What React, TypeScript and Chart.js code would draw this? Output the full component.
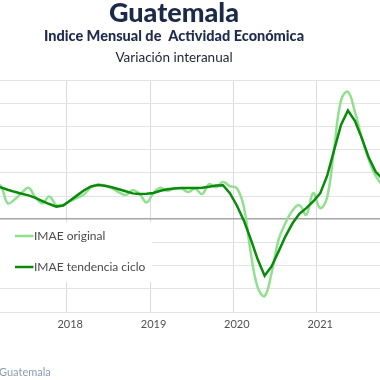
import React, { useEffect, useRef } from "react";
import { Chart, registerables } from "chart.js";

Chart.register(...registerables);

// ---------- data ----------
const TITLE = "Guatemala";
const SUBTITLE = "Indice Mensual de  Actividad Económica";
const SUBTITLE2 = "Variación interanual";
const SOURCE_TEXT = "Guatemala";
const SERIES_NAMES = ["IMAE original", "IMAE tendencia ciclo"];

// first month of the series: February 2017
const START_YEAR = 2017;
const START_MONTH = 2;

const yearLabels = [2017, 2018, 2019, 2020, 2021];

// IMAE tendencia ciclo (% interanual)
const trendValues = [
  4.4, 4.11, 3.81, 3.54, 3.3, 3.08, 2.75, 2.35, 1.96, 1.63, 1.76,
  2.42, 3.08, 3.74, 4.23, 4.43, 4.33, 4.14, 3.87, 3.61, 3.34, 3.25, 3.28,
  3.4, 3.67, 3.87, 3.96, 4.03, 4.04, 4.04, 4.07, 4.2, 4.36, 4.4, 3.37,
  1.77, -0.16, -2.58, -5.19, -7.32, -6.11, -4.19, -2.21, -0.56, 0.7, 1.43, 2.29,
  3.34, 5.59, 8.89, 12.2, 14.05, 12.73, 10.48, 7.97, 6.12, 5.19, 4.5,
];

// IMAE original (% interanual)
const originalValues = [
  4.6, 4.3, 2.06, 2.55, 3.41, 4.07, 2.81, 2.06, 2.95, 1.82, 1.89,
  2.35, 2.75, 3.21, 4.14, 4.49, 4.33, 4.0, 3.48, 3.15, 3.74, 3.28, 2.15,
  3.41, 4.07, 3.67, 4.0, 4.0, 3.52, 3.96, 3.25, 4.53, 4.14, 4.8, 4.27,
  4.0, 1.63, -4.32, -8.81, -9.94, -6.96, -2.67, -0.49, 1.1, 1.82, 0.57, 3.38,
  1.43, 2.81, 9.03, 15.37, 16.49, 13.92, 10.48, 7.7, 5.59, 4.4, 4.0,
];

const Y_MIN = -12;
const Y_MAX = 18;
const Y_STEP = 3;

// ---------- layout ----------
const SHIFT = 40; // canvas is shifted left; image x = canvas x - SHIFT
const CANVAS_W = 428;
const CANVAS_H = 380;
const FONT = "Lato, 'Open Sans', sans-serif";

// months from Jan 2018, placed at mid-month
const monthPos = (i: number) =>
  (START_YEAR - 2018) * 12 + (START_MONTH - 1) + i + 0.5;

const toPoints = (vals: number[]) => vals.map((v, i) => ({ x: monthPos(i), y: v }));

const textPlugin = {
  id: "customTexts",
  afterDatasetsDraw(chart: any) {
    const ctx: CanvasRenderingContext2D = chart.ctx;
    const X = (ix: number) => ix + SHIFT;
    ctx.save();
    // legend box
    ctx.fillStyle = "#ffffff";
    ctx.fillRect(X(-40), 222, 192, 60);
    const items = [
      { name: SERIES_NAMES[0], color: "#90e090", y: 236 },
      { name: SERIES_NAMES[1], color: "#0a8a0a", y: 267 },
    ];
    items.forEach((it) => {
      ctx.strokeStyle = it.color;
      ctx.lineWidth = 2.5;
      ctx.beginPath();
      ctx.moveTo(X(15), it.y);
      ctx.lineTo(X(33.5), it.y);
      ctx.stroke();
      ctx.fillStyle = "#4a4a4a";
      ctx.font = `12px ${FONT}`;
      ctx.textAlign = "left";
      ctx.textBaseline = "alphabetic";
      ctx.fillText(it.name, X(34), it.y + 4);
    });
    ctx.restore();
  },
  afterDraw(chart: any) {
    const ctx: CanvasRenderingContext2D = chart.ctx;
    const cx = CANVAS_W / 2;
    ctx.save();
    ctx.textAlign = "center";
    ctx.textBaseline = "alphabetic";
    ctx.fillStyle = "#1b2a48";
    ctx.font = `900 27px ${FONT}`;
    ctx.fillText(TITLE, cx, 21.5);
    ctx.fillStyle = "#1e2b4c";
    ctx.font = `900 14.5px ${FONT}`;
    ctx.fillText(SUBTITLE, cx, 41);
    ctx.fillStyle = "#22283a";
    ctx.font = `13.5px ${FONT}`;
    ctx.fillText(SUBTITLE2, cx, 61.5);
    // source
    ctx.textAlign = "left";
    ctx.fillStyle = "#8c9db3";
    ctx.font = `11px ${FONT}`;
    ctx.fillText(SOURCE_TEXT, SHIFT - 1, 376);
    ctx.restore();
  },
};

export default function App() {
  const ref = useRef<HTMLCanvasElement | null>(null);

  useEffect(() => {
    if (!ref.current) return;
    const chart = new Chart(ref.current, {
      type: "line",
      data: {
        datasets: [
          {
            label: SERIES_NAMES[1],
            data: toPoints(trendValues),
            borderColor: "#0a8a0a",
            borderWidth: 2.5,
            pointRadius: 0,
            tension: 0,
            fill: false,
          },
          {
            label: SERIES_NAMES[0],
            data: toPoints(originalValues),
            borderColor: "#90e090",
            borderWidth: 2.5,
            pointRadius: 0,
            tension: 0.4,
            fill: false,
          },
        ],
      },
      options: {
        animation: false,
        responsive: false,
        maintainAspectRatio: false,
        devicePixelRatio: 1,
        layout: { padding: { top: 80, bottom: 42.8, left: 0, right: 0 } },
        plugins: {
          legend: { display: false },
          tooltip: { enabled: false },
          title: { display: false },
        },
        scales: {
          x: {
            type: "linear",
            min: -15.37,
            max: 46.27,
            border: { display: false },
            grid: { color: "#dadada", lineWidth: 1, drawTicks: false },
            ticks: {
              stepSize: 12,
              includeBounds: false,
              autoSkip: false,
              maxRotation: 0,
              padding: 6,
              labelOffset: 3.5,
              color: "#505050",
              font: { family: FONT, size: 11 },
              callback: (v: any) => {
                const n = Number(v);
                if (n % 12 !== 0) return "";
                const yr = 2018 + n / 12;
                return yearLabels.includes(yr) ? String(yr) : "";
              },
            },
          },
          y: {
            min: Y_MIN,
            max: Y_MAX,
            border: { display: false },
            grid: {
              drawTicks: false,
              color: (c: any) => (c.tick && c.tick.value === 0 ? "#a6a6a6" : "#e3e3e3"),
              lineWidth: (c: any) => (c.tick && c.tick.value === 0 ? 1.6 : 1),
            },
            ticks: { display: false, stepSize: Y_STEP },
          },
        },
      },
      plugins: [textPlugin],
    });
    return () => chart.destroy();
  }, []);

  return (
    <div
      style={{
        position: "fixed",
        left: 0,
        top: 0,
        width: 380,
        height: 380,
        overflow: "hidden",
        background: "#ffffff",
      }}
    >
      <canvas
        ref={ref}
        width={CANVAS_W}
        height={CANVAS_H}
        style={{ position: "absolute", left: -SHIFT, top: 0, width: CANVAS_W, height: CANVAS_H }}
      />
    </div>
  );
}
